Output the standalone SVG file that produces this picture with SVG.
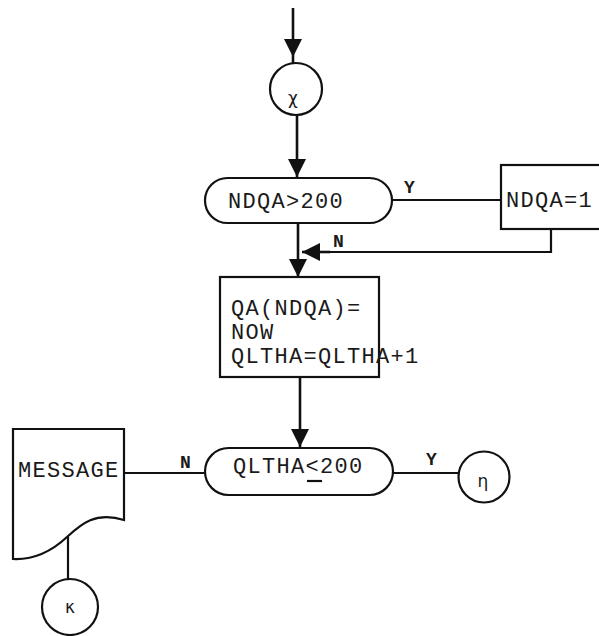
<svg xmlns="http://www.w3.org/2000/svg" width="599" height="636" viewBox="0 0 599 636">
<style>
  .shape { fill: #fff; stroke: #111; stroke-width: 2.2; }
  .line { fill: none; stroke: #111; stroke-width: 2.2; }
  .arrow { fill: none; stroke: #111; stroke-width: 2.6; }
  .txt { font-family: "Liberation Mono", "Courier New", monospace; font-size: 22px; letter-spacing: 1.3px; fill: #1a1a1a; }
  .lbl { font-family: "Liberation Mono", "Courier New", monospace; font-size: 18px; font-weight: bold; fill: #1a1a1a; }
  .greek { font-family: "DejaVu Sans", "Noto Sans", sans-serif; font-size: 17px; fill: #1a1a1a; text-anchor: middle; }
</style>
<defs>
  <marker id="ah" markerUnits="userSpaceOnUse" markerWidth="18" markerHeight="18" refX="18" refY="9" orient="auto">
    <path d="M0,0 L18,9 L0,18 Z" fill="#111"/>
  </marker>
</defs>

<g id="connectors">
  <path class="arrow" d="M293,8 L293,57" marker-end="url(#ah)"/>
  <path class="arrow" d="M293,57 L293,64"/>
  <path class="arrow" d="M297,114 L297,177" marker-end="url(#ah)"/>
  <path class="line" d="M392,200 L501,200"/>
  <path class="line" d="M551,229 L551,252 L320,252"/>
  <path class="arrow" d="M330,252 L302,252" marker-end="url(#ah)"/>
  <path class="arrow" d="M298,223 L298,277" marker-end="url(#ah)"/>
  <path class="arrow" d="M300,377 L300,447" marker-end="url(#ah)"/>
  <path class="line" d="M205,473 L124,473"/>
  <path class="line" d="M393,473 L458,473"/>
  <path class="line" d="M68,537 L68,579"/>
  <text class="lbl" x="404" y="193">Y</text>
  <text class="lbl" x="333" y="247">N</text>
  <text class="lbl" x="180" y="468">N</text>
  <text class="lbl" x="426" y="465">Y</text>
</g>

<g id="node-chi">
  <circle class="shape" cx="296" cy="89" r="26"/>
  <text class="greek" x="293" y="104">χ</text>
</g>

<g id="node-ndqa-test">
  <rect class="shape" x="205" y="178" width="187" height="45" rx="22.5"/>
  <text class="txt" x="228" y="208">NDQA&gt;200</text>
</g>

<g id="node-ndqa-reset">
  <rect class="shape" x="501" y="165" width="104" height="64"/>
  <text class="txt" x="506" y="207">NDQA=1</text>
</g>

<g id="node-process">
  <rect class="shape" x="220" y="277" width="159" height="100"/>
  <text class="txt" x="231" y="315">QA(NDQA)=</text>
  <text class="txt" x="231" y="339">NOW</text>
  <text class="txt" x="231" y="363">QLTHA=QLTHA+1</text>
</g>

<g id="node-qltha-test">
  <rect class="shape" x="205" y="448" width="188" height="47" rx="23.5"/>
  <text class="txt" x="233" y="473">QLTHA&lt;200</text>
  <line class="line" x1="307" y1="481" x2="322" y2="481" stroke-width="1.8"/>
</g>

<g id="node-eta">
  <circle class="shape" cx="484" cy="477" r="25.5"/>
  <text class="greek" x="483" y="487">η</text>
</g>

<g id="node-message">
  <path class="shape" d="M13,429 L124,429 L124,520 C96,511 81,524 67,537 C52,551 35,560 13,559 Z"/>
  <text class="txt" x="18" y="477">MESSAGE</text>
</g>

<g id="node-kappa">
  <circle class="shape" cx="70" cy="607" r="28"/>
  <text class="greek" x="70" y="613">κ</text>
</g>
</svg>
